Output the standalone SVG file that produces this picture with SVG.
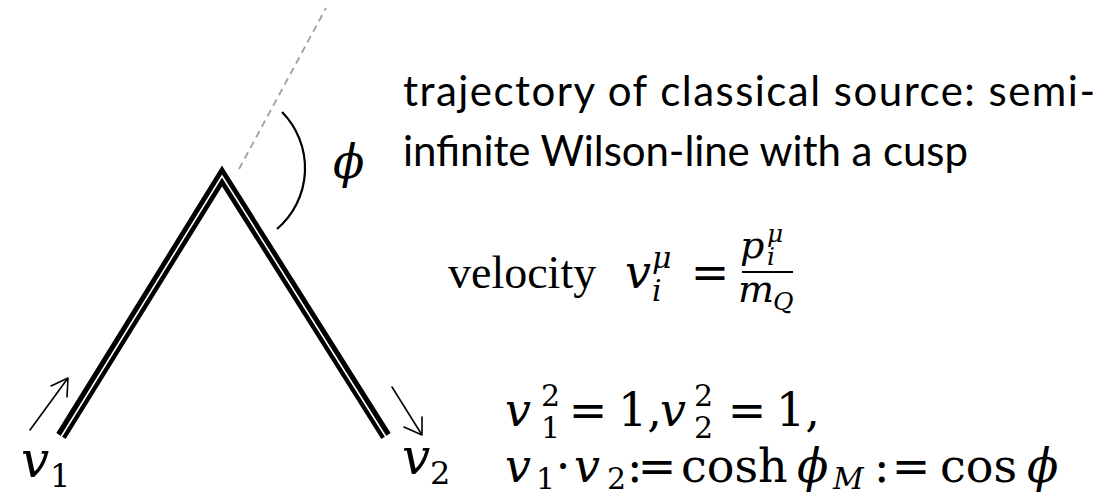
<svg xmlns="http://www.w3.org/2000/svg" width="1107" height="497" viewBox="0 0 1107 497">
<style>
.title{font-family:Lato,"Open Sans",sans-serif;font-size:42px;fill:#000}
.rm{font-family:"Liberation Serif",serif;fill:#000}
.m{font-family:"DejaVu Serif",serif;fill:#000;font-size:46px}
.mi{font-family:"DejaVu Serif",serif;font-style:italic;fill:#000;font-size:46px}
.s{font-size:30px}
.ss{font-size:25px}
.arrow{fill:none;stroke:#000;stroke-width:1.6;stroke-linecap:round;stroke-linejoin:round}
</style>
<rect width="1107" height="497" fill="#fff"/>
<g id="wilson-line">
  <polyline points="61,436 222,176 386,436" fill="none" stroke="#000" stroke-width="11" stroke-linejoin="miter" stroke-miterlimit="10"/>
  <polyline points="61,437 222,176 386,437" fill="none" stroke="#fff" stroke-width="1.6" stroke-linejoin="miter" stroke-miterlimit="10"/>
</g>
<g id="extension">
  <line x1="239" y1="169" x2="326" y2="8" stroke="#9ba4ad" stroke-width="1.9" stroke-dasharray="7,5"/>
</g>
<g id="angle">
  <path d="M282,112 A80,80 0 0 1 277,229" fill="none" stroke="#000" stroke-width="2.2"/>
  <text class="mi" x="333" y="178">ϕ</text>
</g>
<g id="connectors">
  <path class="arrow" d="M30,430 L68,378 M51,386 L68,378 L67,397"/>
  <path class="arrow" d="M392,387 L422,435 M404,427 L422,435 L422,417"/>
</g>
<g id="label-v1">
  <text class="mi" x="21" y="477" style="font-size:50px">v</text>
  <text class="m" x="50" y="487" style="font-size:32px">1</text>
</g>
<g id="label-v2">
  <text class="mi" x="402" y="474" style="font-size:50px">v</text>
  <text class="m" x="430" y="484" style="font-size:32px">2</text>
</g>
<g id="caption">
  <text class="title" x="403" y="106" textLength="692" lengthAdjust="spacing">trajectory of classical source:  semi-</text>
  <text class="title" x="403" y="166" textLength="565" lengthAdjust="spacing">infinite Wilson-line with a cusp</text>
</g>
<g id="velocity">
  <text class="rm" x="448" y="288" style="font-size:46px">velocity</text>
  <text class="mi" x="625" y="288">v</text>
  <text class="mi s" x="652" y="268">μ</text>
  <text class="mi s" x="652" y="301">i</text>
  <text class="m" x="710" y="288" text-anchor="middle">=</text>
  <line x1="742" y1="272" x2="793" y2="272" stroke="#000" stroke-width="1.8"/>
  <text class="mi" x="740" y="258" style="font-size:38px">p</text>
  <text class="mi ss" x="767" y="242">μ</text>
  <text class="mi ss" x="767" y="265">i</text>
  <text class="mi" x="738" y="302" style="font-size:38px">m</text>
  <text class="mi ss" x="773" y="310">Q</text>
</g>
<g id="relations">
  <text class="mi" x="505" y="426">v</text>
  <text class="m s" x="541" y="406">2</text>
  <text class="m s" x="541" y="438">1</text>
  <text class="m" x="588" y="426" text-anchor="middle">=</text>
  <text class="m" x="618" y="426">1,</text>
  <text class="mi" x="660" y="426">v</text>
  <text class="m s" x="694" y="406">2</text>
  <text class="m s" x="694" y="438">2</text>
  <text class="m" x="747" y="426" text-anchor="middle">=</text>
  <text class="m" x="776" y="426">1,</text>

  <text class="mi" x="505" y="482">v</text>
  <text class="m s" x="536" y="489">1</text>
  <text class="m" x="563" y="482" text-anchor="middle">·</text>
  <text class="mi" x="574" y="482">v</text>
  <text class="m s" x="607" y="489">2</text>
  <text class="m" x="627" y="482">:</text>
  <text class="m" x="657" y="482" text-anchor="middle">=</text>
  <text class="m" x="681" y="482">cosh</text>
  <text class="mi" x="797" y="482">ϕ</text>
  <text class="mi s" x="833" y="489">M</text>
  <text class="m" x="874" y="482">:</text>
  <text class="m" x="911" y="482" text-anchor="middle">=</text>
  <text class="m" x="940" y="482">cos</text>
  <text class="mi" x="1027" y="482">ϕ</text>
</g>
</svg>
